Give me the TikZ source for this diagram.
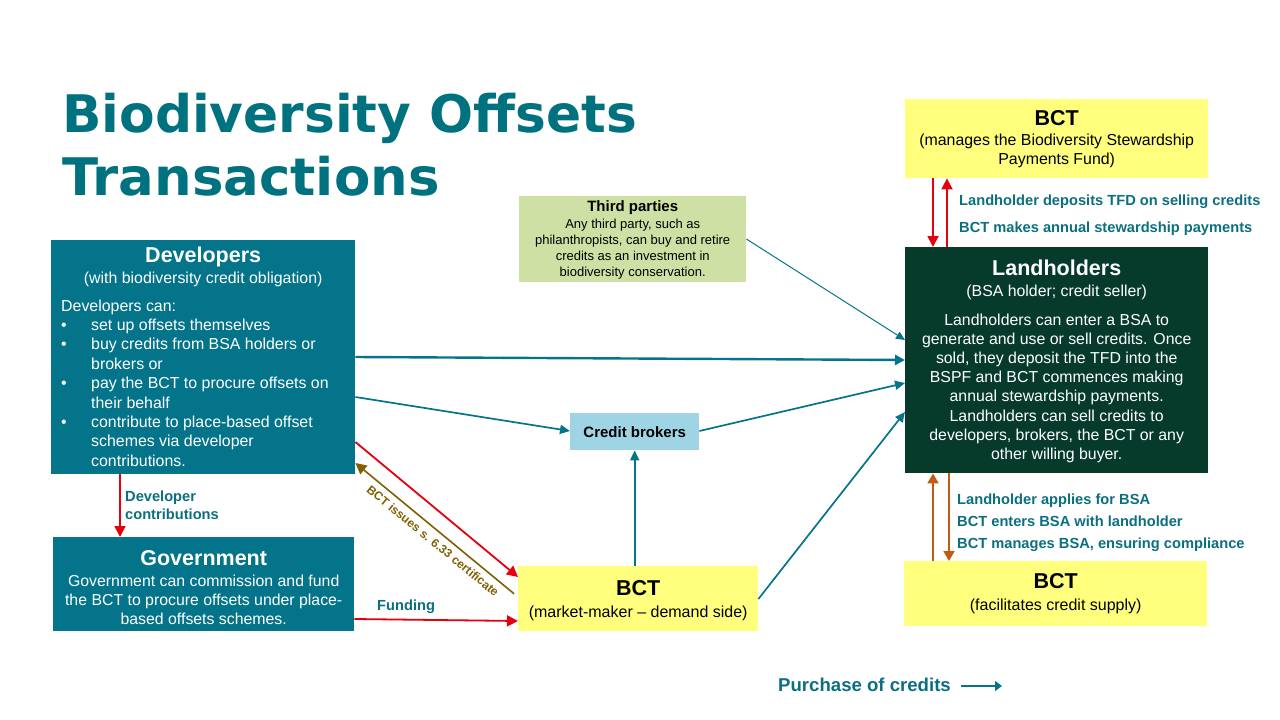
\documentclass[tikz,border=0pt]{standalone}
\usepackage{fontspec}
\setmainfont{Liberation Sans}
\newfontfamily\titlefont{DejaVu Sans}
\usetikzlibrary{arrows.meta}
\definecolor{tealbox}{HTML}{04748A}
\definecolor{tealtxt}{HTML}{0B6F7F}
\definecolor{titleteal}{HTML}{00727F}
\definecolor{darkgrn}{HTML}{063B2C}
\definecolor{yellowbox}{HTML}{FFFF7D}
\definecolor{lgreen}{HTML}{CFE0A5}
\definecolor{lblue}{HTML}{9FD4E4}
\definecolor{redline}{HTML}{E4000F}
\definecolor{olive}{HTML}{7F6000}
\definecolor{orangeline}{HTML}{C55A11}
\newcommand{\fs}[2]{\fontsize{#1}{#2}\selectfont}
\newcommand{\bl}[1]{\makebox[30pt][l]{•}#1}
\newcommand{\cl}[1]{\makebox[284pt][c]{#1}}
\newcommand{\hd}[1]{{\bfseries\fs{21.5}{24}#1}}
\tikzset{
  box/.style={rectangle,inner sep=0pt,anchor=north west,align=center},
  tealb/.style={box,fill=tealbox,text=white},
  yelb/.style={box,fill=yellowbox,text=black},
  lab/.style={font=\bfseries\fs{14.65}{18},text=tealtxt,anchor=base west,inner sep=0pt,align=left},
  conn/.style={line width=1.7pt,tealbox,-{Triangle[length=10pt,width=9pt]}},
  thin conn/.style={line width=1pt,tealbox,-{Triangle[length=9pt,width=8pt]}},
  thick conn/.style={line width=2.4pt,tealbox,-{Triangle[length=10pt,width=10pt]}},
  redc/.style={line width=1.8pt,redline,-{Triangle[length=11pt,width=11pt]}},
  orc/.style={line width=1.8pt,orangeline,-{Triangle[length=10pt,width=11pt]}},
  olc/.style={line width=1.6pt,olive,-{Triangle[length=11pt,width=11pt]}},
}
\begin{document}
\begin{tikzpicture}[x=1pt,y=-1pt]
\useasboundingbox (0,0) rectangle (1280,720);
\node[anchor=north west,inner sep=0pt,align=left,text=titleteal,font=\titlefont\bfseries\fs{51.8}{63}] (title) at (62,93) {Biodiversity Offsets\\\scalebox{1.022}[1]{Transactions}};

\node[box,fill=lgreen,minimum width=227pt,minimum height=86pt,font=\fs{13}{16}] (third) at (519,196) {\rule{0pt}{13pt}{\bfseries\fs{15}{17}Third parties}\\[1pt]Any third party, such as\\philanthropists, can buy and retire\\credits as an investment in\\biodiversity conservation.};

\node[tealb,minimum width=304pt,minimum height=234pt,font=\fs{15.9}{19.4}] (dev) at (51,240) {\begin{tabular}{@{}l@{}}
\rule{0pt}{20pt}\cl{\hd{Developers}}\\[2pt]
\cl{(with biodiversity credit obligation)}\\[8pt]
Developers can:\\
\bl{set up offsets themselves}\\
\bl{buy credits from BSA holders or}\\
\makebox[30pt]{}brokers or\\
\bl{pay the BCT to procure offsets on}\\
\makebox[30pt]{}their behalf\\
\bl{contribute to place-based offset}\\
\makebox[30pt]{}schemes via developer\\
\makebox[30pt]{}contributions.
\end{tabular}};

\node[tealb,minimum width=301pt,minimum height=94pt,font=\fs{15.85}{19}] (gov) at (53,537) {\rule{0pt}{21pt}\hd{Government}\\[2pt]Government can commission and fund\\the BCT to procure offsets under place-\\based offsets schemes.};

\node[box,fill=lblue,minimum width=129pt,minimum height=37pt,font=\bfseries\fs{15}{16}] (brokers) at (570,413) {Credit brokers};

\node[yelb,minimum width=240pt,minimum height=65pt,font=\fs{16}{22}] (bctm) at (518,566) {\rule{0pt}{18pt}\hd{BCT}\\(market-maker – demand side)};

\node[yelb,minimum width=303pt,minimum height=79pt,font=\fs{15.9}{19.5}] (bcttop) at (905,99) {\rule{0pt}{16pt}\hd{BCT}\\(manages the Biodiversity Stewardship\\Payments Fund)};

\node[box,fill=darkgrn,text=white,minimum width=303pt,minimum height=226pt,font=\fs{15.85}{19.2}] (land) at (905,247) {\rule{0pt}{18pt}\hd{Landholders}\\[2pt](BSA holder; credit seller)\\[9pt]Landholders can enter a BSA to\\generate and use or sell credits. Once\\sold, they deposit the TFD into the\\BSPF and BCT commences making\\annual stewardship payments.\\Landholders can sell credits to\\developers, brokers, the BCT or any\\other willing buyer.};

\node[yelb,minimum width=303pt,minimum height=65pt,font=\fs{16}{22}] (bctb) at (904,561) {\hd{BCT}\\(facilitates credit supply)};

% teal connectors
\draw[thin conn] (third.east |- 0,239) -- (land.west |- 0,340);
\draw[thick conn] (dev.east |- 0,357) -- (land.west |- 0,360);
\draw[conn] (dev.east |- 0,397) -- (brokers.west |- 0,431);
\draw[conn] (brokers.east |- 0,431) -- (land.west |- 0,383);
\draw[conn] (brokers.south |- bctm.north) -- (brokers.south);
\draw[conn] (bctm.east |- 0,599) -- (land.west |- 0,412);

% red and olive
\draw[redc] (dev.east |- 0,442) -- (bctm.west |- 0,577);
\draw[olc,shorten <=5pt] (bctm.west |- 0,597) -- (dev.east |- 0,463);
\draw[redc] (gov.east |- 0,619) -- (bctm.west |- 0,621);
\draw[redc] (dev.south -| 120,474) -- (gov.north -| 120,537);

% vertical pairs
\draw[redc] (bcttop.south -| 933,178) -- (land.north -| 933,247);
\draw[redc] (land.north -| 947,247) -- (bcttop.south -| 947,178);
\draw[orc] (bctb.north -| 933,561) -- (land.south -| 933,473);
\draw[orc] (land.south -| 949,473) -- (bctb.north -| 949,561);

% labels
\node[lab] (l1) at (125,519) {Developer\\contributions};
\node[lab] (l2) at (377,610) {Funding};
\node[lab] (l3) at (959,205) {Landholder deposits TFD on selling credits};
\node[lab] (l4) at (959,232) {BCT makes annual stewardship payments};
\node[lab] (l5) at (957,504) {Landholder applies for BSA};
\node[lab] (l6) at (957,526) {BCT enters BSA with landholder};
\node[lab] (l7) at (957,548) {BCT manages BSA, ensuring compliance};
\node[font=\bfseries\fs{12}{15},text=olive,rotate=-39.4,inner sep=0pt] (l8) at (433,541) {BCT issues s. 6.33 certificate};
\node[font=\bfseries\fs{18.6}{21},text=tealtxt,anchor=west,inner sep=0pt] (leg) at (778,685) {Purchase of credits};
\coordinate (legend end) at (1002,686);
\draw[line width=1.5pt,tealbox,-{Triangle[length=7pt,width=10pt]}] (leg.east |- legend end) ++(10,0) -- (legend end);
\end{tikzpicture}
\end{document}
